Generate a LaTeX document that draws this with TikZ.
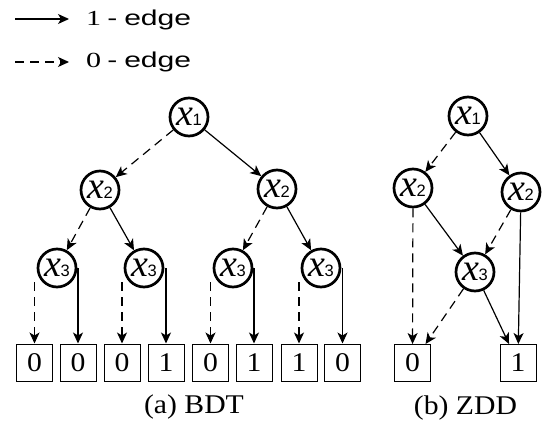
\documentclass[tikz,border=0pt]{standalone}
\usepackage{fontspec}
\setmainfont[FakeStretch=1.1]{Liberation Serif}
\newfontfamily\varfont{Liberation Serif}
\newfontfamily\subfont{Liberation Sans}
\newfontfamily\legendsans[FakeStretch=1.4]{Liberation Sans}
\newfontfamily\legendserif[FakeStretch=1.4]{Liberation Serif}
\usetikzlibrary{arrows.meta}

\tikzset{
  var/.style={circle, draw, line width=2.7pt, minimum size=38pt, inner sep=0pt},
  term/.style={rectangle, draw, line width=1pt, minimum width=36pt, minimum height=37pt, inner sep=0pt,
               font=\fontsize{27}{27}\selectfont},
  edgeone/.style={line width=1.2pt, -{Stealth[length=11pt,width=10pt,inset=3pt]}},
  edgezero/.style={edgeone, dash pattern=on 9pt off 6pt},
  caption/.style={font=\fontsize{27}{27}\selectfont},
  legendtext/.style={anchor=west, inner sep=0pt, font=\fontsize{21.5}{21.5}\selectfont},
}
\newcommand{\vlabel}[1]{{\fontsize{38}{38}\selectfont\varfont\itshape x}\kern-0.5pt{\fontsize{16.5}{16.5}\selectfont\subfont #1}}
\newcommand{\legendentry}[1]{{\legendserif #1}\hspace{6pt}{\legendsans -}\hspace{7pt}{\legendsans edge}}

\begin{document}
\begin{tikzpicture}[x=1pt, y=-1pt]
\useasboundingbox (0,0) rectangle (547,424);

% legend
\coordinate (l1a) at (15,19);
\coordinate (l1b) at (69,19);
\coordinate (l0a) at (15,62);
\coordinate (l0b) at (69,62);
\draw[edgeone] (l1a) -- (l1b);
\draw[edgezero] (l0a) -- (l0b);
\node[legendtext] (t1) at (86,20) {\legendentry{1}};
\node[legendtext] (t0) at (86,62) {\legendentry{0}};

% binary decision tree
\node[var] (a1)  at (189,117) {\vlabel{1}};
\node[var] (a2l) at (100,190) {\vlabel{2}};
\node[var] (a2r) at (277,189) {\vlabel{2}};
\node[var] (a3a) at (57,268)  {\vlabel{3}};
\node[var] (a3b) at (144,268) {\vlabel{3}};
\node[var] (a3c) at (233,268) {\vlabel{3}};
\node[var] (a3d) at (321,268) {\vlabel{3}};

\node[term] (b1) at (34.5,362.5) {0};
\node[term] (b2) at (78,362.5)   {0};
\node[term] (b3) at (122,362.5)  {0};
\node[term] (b4) at (166,362.5)  {1};
\node[term] (b5) at (210.5,362.5){0};
\node[term] (b6) at (254,362.5)  {1};
\node[term] (b7) at (299,362.5)  {1};
\node[term] (b8) at (342.5,362.5){0};

\draw[edgezero] (a1) -- (a2l);
\draw[edgeone]  (a1) -- (a2r);
\draw[edgezero] (a2l) -- (a3a);
\draw[edgeone]  (a2l) -- (a3b);
\draw[edgezero] (a2r) -- (a3c);
\draw[edgeone]  (a2r) -- (a3d);

% terminal edges drop straight down from the sides of each x3 node
\foreach \n/\z/\o in {a3a/b1/b2, a3b/b3/b4, a3c/b5/b6, a3d/b7/b8}{
  \draw[edgezero] (\z.north |- \n.south west) -- (\z.north);
  \draw[edgeone]  (\o.north |- \n.east) -- (\o.north);
}

\node[caption] (capa) at (194,407) {(a) BDT};

% zero-suppressed decision diagram
\node[var] (z1)  at (468,116) {\vlabel{1}};
\node[var] (z2l) at (413,188) {\vlabel{2}};
\node[var] (z2r) at (521,192) {\vlabel{2}};
\node[var] (z3)  at (475,272) {\vlabel{3}};
\node[term] (zt0) at (412.5,363) {0};
\node[term] (zt1) at (518,363)   {1};

\draw[edgezero] (z1) -- (z2l);
\draw[edgeone]  (z1) -- (z2r);
\draw[edgezero] (z2l) -- (zt0);
\draw[edgeone]  (z2l) -- (z3);
\draw[edgezero] (z2r) -- (z3);
\draw[edgeone]  (z2r) -- (zt1);
\draw[edgezero] (z3) -- (zt0);
\draw[edgeone]  (z3) -- (zt1);

\node[caption] (capb) at (465.5,408) {(b) ZDD};
\end{tikzpicture}
\end{document}
